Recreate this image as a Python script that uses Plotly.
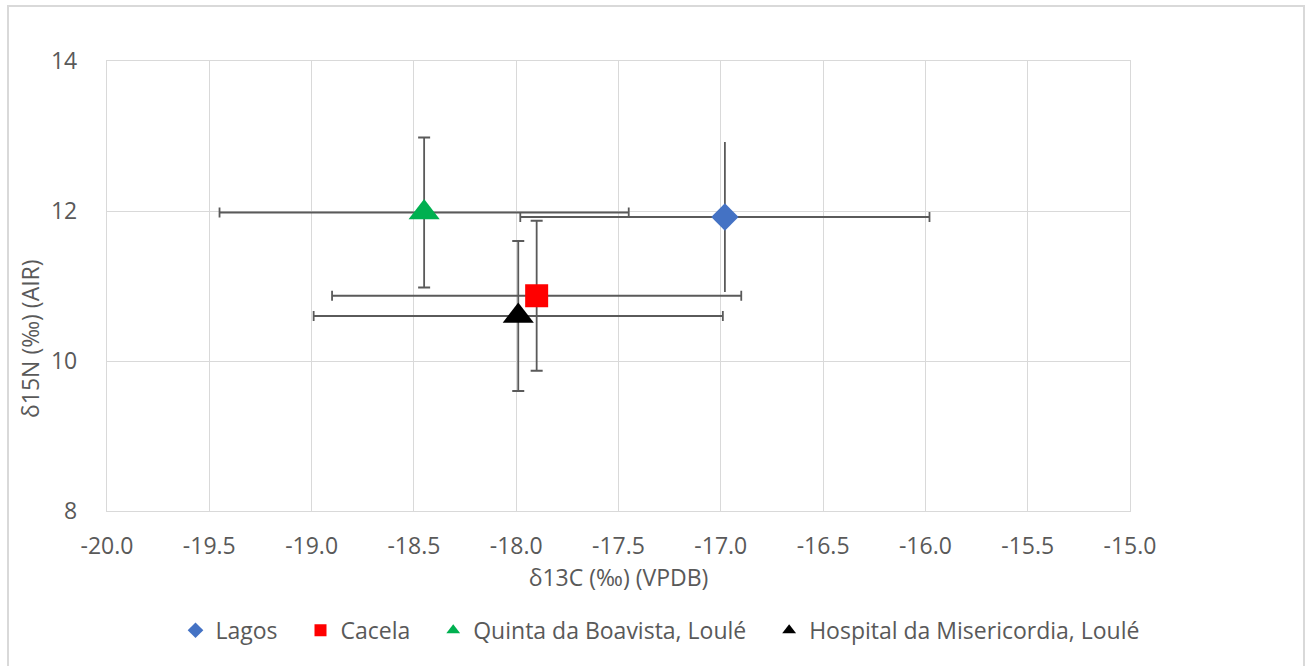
import plotly.graph_objects as go

names = ["Lagos", "Cacela", "Quinta da Boavista, Loulé", "Hospital da Misericordia, Loulé"]
d13c = [-16.98, -17.90, -18.45, -17.99]
d15n = [11.92, 10.87, 11.98, 10.60]
err_c = [1.0, 1.0, 1.0, 1.0]
err_n = [1.0, 1.0, 1.0, 1.0]
colors = ["#4472C4", "#FF0000", "#00B050", "#000000"]
symbols = ["diamond", "square", "triangle-up", "triangle-up"]
sizes = [21, 23, 27, 27]
ycaps = [0, 6, 6, 6]

x_ticks = [-20.0, -19.5, -19.0, -18.5, -18.0, -17.5, -17.0, -16.5, -16.0, -15.5, -15.0]
y_ticks = [8, 10, 12, 14]

font = "Open Sans, Lato, sans-serif"
txt = "#595959"
grid = "#d9d9d9"
ebc = "#5a5a5a"
pad = "\u00a0" * 3
fs = 23

fig = go.Figure()
for i in range(len(names)):
    fig.add_trace(go.Scatter(
        x=[d13c[i]], y=[d15n[i]], mode="markers",
        name=names[i] + (pad if i < len(names) - 1 else ""),
        marker=dict(symbol=symbols[i], size=sizes[i], color=colors[i], line=dict(width=0)),
        error_x=dict(type="data", array=[err_c[i]], color=ebc, thickness=1.8, width=5),
        error_y=dict(type="data", array=[err_n[i]], color=ebc, thickness=1.8, width=ycaps[i]),
    ))

fig.update_layout(
    width=1311, height=666,
    margin=dict(l=107, r=181, t=61, b=155),
    paper_bgcolor="white", plot_bgcolor="white",
    font=dict(family=font, color=txt, size=fs),
    showlegend=True,
    legend=dict(orientation="h", x=(660 - 107) / 1023, xanchor="center", y=-0.265, yanchor="middle",
                font=dict(size=fs, color=txt), itemsizing="constant",
                itemwidth=30, tracegroupgap=0),
    xaxis=dict(range=[-20, -15], tickvals=x_ticks, ticktext=[f"{v:.1f}" for v in x_ticks],
               showgrid=True, gridcolor=grid, gridwidth=1.3, zeroline=False,
               showline=True, linecolor=grid, linewidth=1.3, mirror=True,
               ticks="", ticklabelstandoff=14, tickfont=dict(size=fs),
               title=dict(text="δ13C (‰) (VPDB)", font=dict(size=fs, color=txt), standoff=8)),
    yaxis=dict(range=[8, 14], tickvals=y_ticks, ticktext=[str(v) for v in y_ticks],
               showgrid=True, gridcolor=grid, gridwidth=1.3, zeroline=False,
               showline=True, linecolor=grid, linewidth=1.3, mirror=True,
               ticks="", ticklabelstandoff=24, tickfont=dict(size=fs)),
    annotations=[dict(text="δ15N (‰) (AIR)", textangle=-90, xref="paper", yref="paper",
                      x=(30 - 107) / 1023, y=(511 - 339) / 450, xanchor="center", yanchor="middle",
                      showarrow=False, font=dict(size=fs, color=txt))],
    shapes=[dict(type="rect", xref="paper", yref="paper",
                 x0=(8 - 107) / 1023, x1=(1304 - 107) / 1023,
                 y0=(511 - 680) / 450, y1=(511 - 6) / 450,
                 line=dict(color=grid, width=2), fillcolor="rgba(0,0,0,0)", layer="below")],
)

fig.write_html("out.html")
